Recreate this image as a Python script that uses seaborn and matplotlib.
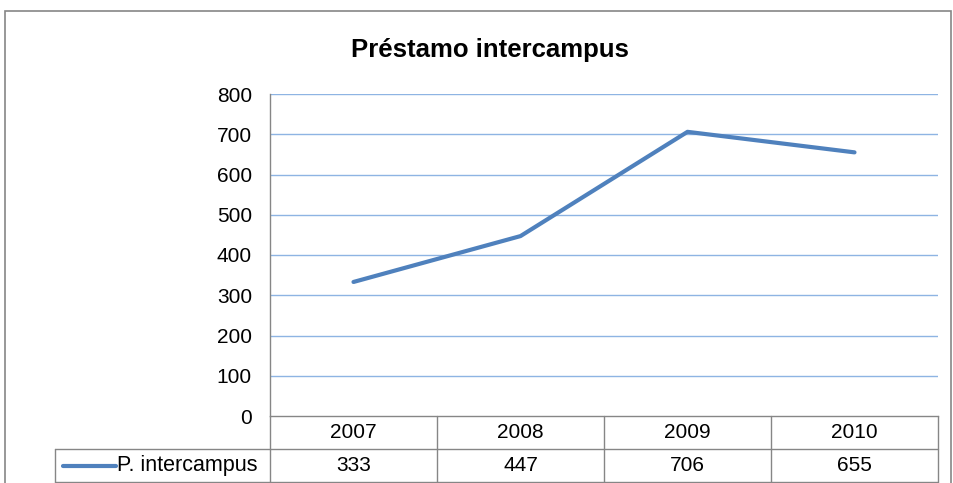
import matplotlib
matplotlib.use("Agg")
import matplotlib.pyplot as plt
import seaborn as sns
import pandas as pd
from matplotlib.patches import Rectangle
from matplotlib.lines import Line2D

# datos
years = ["2007", "2008", "2009", "2010"]
prestamos = [333, 447, 706, 655]
serie = "P. intercampus"
titulo = "Préstamo intercampus"
yticks = [0, 100, 200, 300, 400, 500, 600, 700, 800]

sns.set_style("white")
plt.rcParams['font.family'] = ['Liberation Sans', 'DejaVu Sans']
plt.rcParams['text.color'] = 'black'
plt.rcParams['ytick.labelcolor'] = 'black'

W, H = 954, 483
FS = 15
fig = plt.figure(figsize=(W / 100, H / 100), dpi=100)

# area de trazado (en pixeles de la referencia)
left, right, top, bottom = 270, 938, 94, 416
ax = fig.add_axes([left / W, (H - bottom) / H, (right - left) / W, (bottom - top) / H])

df = pd.DataFrame({"pos": range(len(years)), "valor": prestamos})
sns.lineplot(data=df, x="pos", y="valor", ax=ax, color="#4F81BD", linewidth=3.0,
             solid_capstyle="round", legend=False)

ax.set_xlim(-0.5, len(years) - 0.5)
ax.set_ylim(0, 800)
ax.set_yticks(yticks)
ax.set_yticklabels([str(v) for v in yticks], fontsize=FS, color="black")
ax.set_xticks([])
ax.set_xlabel("")
ax.set_ylabel("")
ax.tick_params(axis="y", length=3, color="#868686", pad=10)
for y in yticks[1:]:
    ax.axhline(y, color="#8EB4E3", linewidth=1.0, zorder=0)
for s in ["top", "right"]:
    ax.spines[s].set_visible(False)
for s in ["left", "bottom"]:
    ax.spines[s].set_color("#868686")
    ax.spines[s].set_linewidth(1.0)

# tabla de datos
grid = "#868686"
rh = 33 / (bottom - top)  # alto de fila en coordenadas de ejes
legx = (55 - left) / (right - left)
kw = dict(transform=ax.transAxes, color=grid, linewidth=1.0, clip_on=False)
ax.add_line(Line2D([0, 1], [-rh, -rh], **kw))
ax.add_line(Line2D([legx, 1], [-2 * rh, -2 * rh], **kw))
ax.add_line(Line2D([legx, 0], [-rh, -rh], **kw))
ax.add_line(Line2D([legx, legx], [-rh, -2 * rh], **kw))
ax.add_line(Line2D([0, 0], [0, -2 * rh], **kw))
for i in range(1, len(years) + 1):
    xf = i / len(years)
    ax.add_line(Line2D([xf, xf], [0, -2 * rh], **kw))

for i, (yr, v) in enumerate(zip(years, prestamos)):
    xc = (i + 0.5) / len(years)
    ax.text(xc, -0.5 * rh, yr, transform=ax.transAxes, ha="center", va="center", fontsize=FS)
    ax.text(xc, -1.5 * rh, str(v), transform=ax.transAxes, ha="center", va="center", fontsize=FS)

# clave de leyenda
kx0 = (63 - left) / (right - left)
kx1 = (116 - left) / (right - left)
ax.add_line(Line2D([kx0, kx1], [-1.5 * rh, -1.5 * rh], transform=ax.transAxes,
                   color="#4F81BD", linewidth=3.0, solid_capstyle="round", clip_on=False))
ax.text((117 - left) / (right - left), -1.5 * rh, serie, transform=ax.transAxes,
        ha="left", va="center", fontsize=FS + 0.5)

# titulo
fig.text(490 / W, (H - 50) / H, titulo, ha="center", va="center", fontsize=18.5, fontweight="bold")

# borde exterior
fig.patches.append(Rectangle((5 / W, -0.1), (951 - 5) / W, (H - 11) / H + 0.1,
                             transform=fig.transFigure, fill=False, edgecolor="#868686",
                             linewidth=1.2))

fig.savefig("out.png", dpi=100)
